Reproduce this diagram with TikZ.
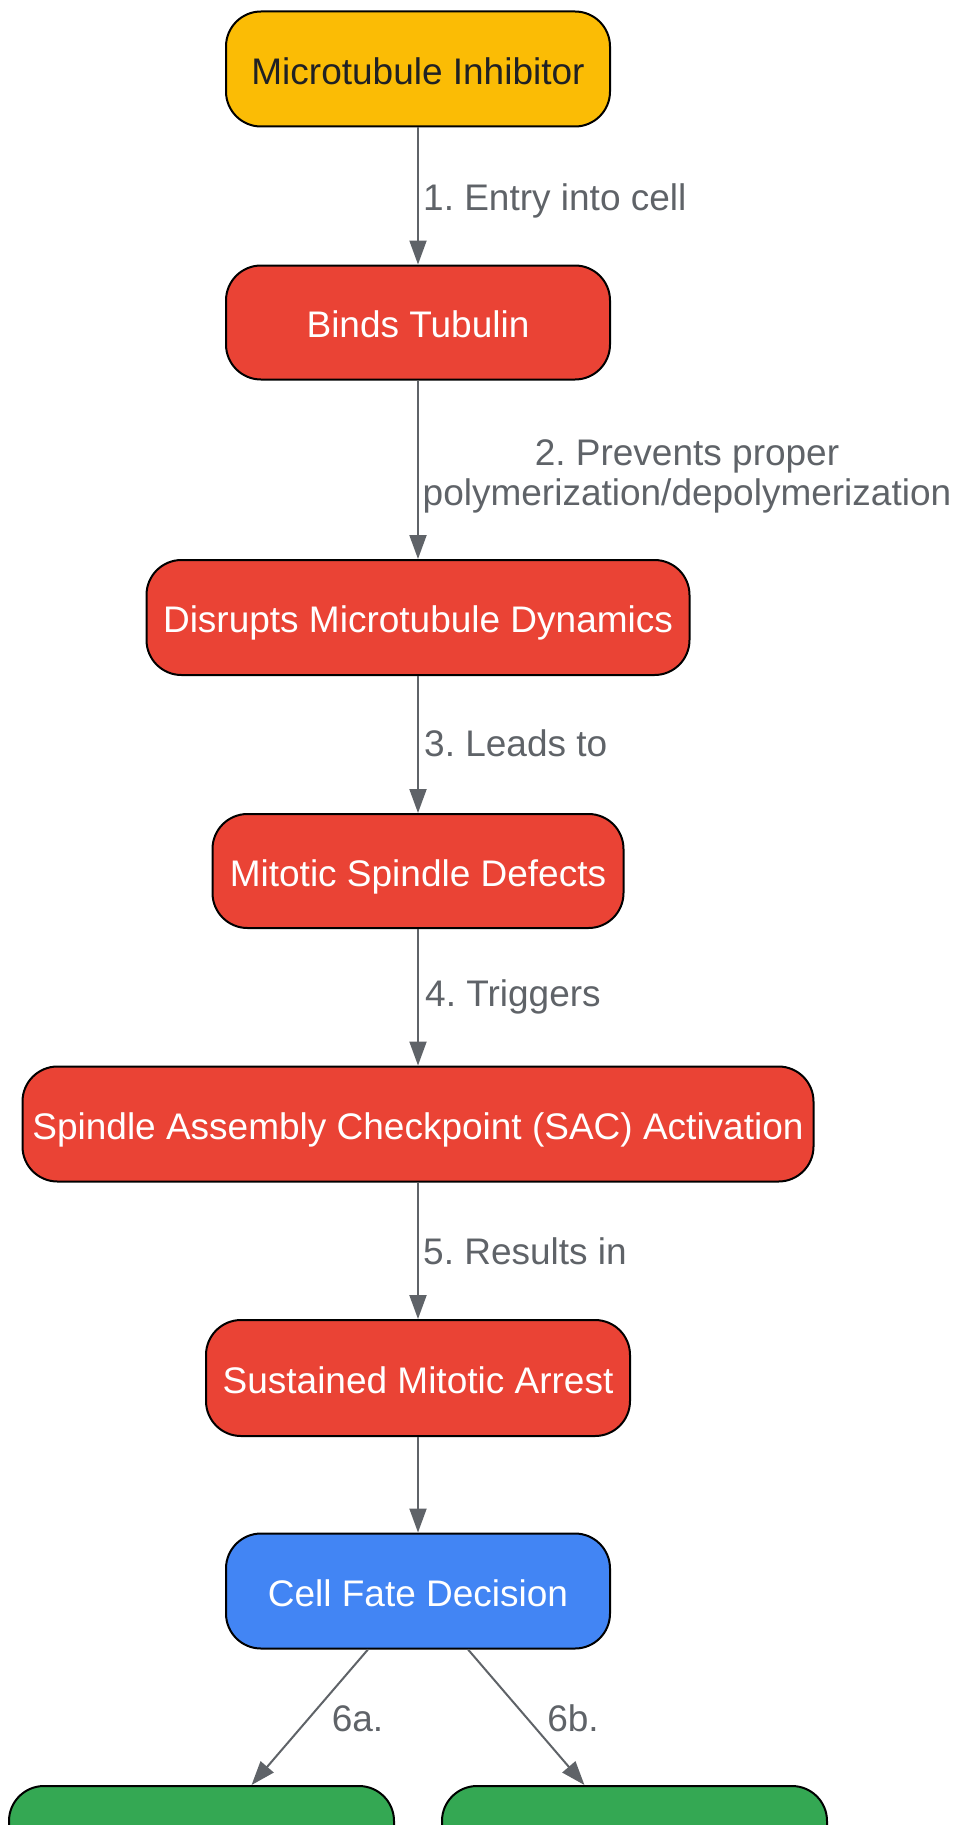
\documentclass[tikz,border=0pt]{standalone}
\usepackage{fontspec}
\setmainfont{Liberation Sans}
\usetikzlibrary{arrows.meta}
\frenchspacing
\definecolor{cyellow}{HTML}{FBBC05}
\definecolor{cred}{HTML}{EA4335}
\definecolor{cblue}{HTML}{4285F4}
\definecolor{cgreen}{HTML}{34A853}
\definecolor{cdark}{HTML}{202124}
\definecolor{cgrey}{HTML}{5F6368}
\tikzset{
  box/.style={draw=black, line width=2pt, rounded corners=35pt, inner sep=0pt,
    font=\fontsize{37}{44}\selectfont, text=white, text height=30.5pt, text depth=0pt},
  conn/.style={draw=cgrey, line width=2pt, -{Triangle[length=24pt,width=17pt]}},
  lbl/.style={text=cgrey, font=\fontsize{37}{40}\selectfont, inner sep=0pt},
  lbls/.style={lbl, text height=26.5pt, text depth=0pt},
}
\begin{document}
\begin{tikzpicture}[x=1pt,y=-1pt]
\clip (0,0) rectangle (956,1825);
\node[box, fill=cyellow, text=cdark, minimum width=384pt, minimum height=115pt] (mi) at (418,69) {Microtubule Inhibitor};
\node[box, fill=cred, minimum width=384pt, minimum height=114pt] (bt) at (418,322.5) {Binds Tubulin};
\node[box, fill=cred, minimum width=543pt, minimum height=115pt] (dm) at (418,617.5) {Disrupts Microtubule Dynamics};
\node[box, fill=cred, minimum width=411pt, minimum height=114pt] (ms) at (418,871) {Mitotic Spindle Defects};
\node[box, fill=cred, minimum width=791pt, minimum height=115pt] (sac) at (418,1124) {Spindle Assembly Checkpoint (SAC) Activation};
\node[box, fill=cred, minimum width=424pt, minimum height=116pt] (sm) at (418,1378) {Sustained Mitotic Arrest};
\node[box, fill=cblue, minimum width=384pt, minimum height=115pt] (cf) at (418,1591) {Cell Fate Decision};
\node[box, fill=cgreen, minimum width=385pt, minimum height=115pt] (ga) at (201.5,1843.5) {};
\node[box, fill=cgreen, minimum width=385pt, minimum height=115pt] (gb) at (634.5,1843.5) {};

\draw[conn] (mi) -- (bt);
\draw[conn] (bt) -- (dm);
\draw[conn] (dm) -- (ms);
\draw[conn] (ms) -- (sac);
\draw[conn] (sac) -- (sm);
\draw[conn] (sm) -- (cf);
\draw[conn] (cf) -- (ga);
\draw[conn] (cf) -- (gb);

\node[lbls, anchor=west] (l1) at (423,197) {1. Entry into cell};
\node[lbl, align=center] (l2) at (687,476.6) {2. Prevents proper\\polymerization/depolymerization};
\node[lbls, anchor=west] (l3) at (424,743.5) {3. Leads to};
\node[lbls, anchor=west] (l4) at (425,993.5) {4. Triggers};
\node[lbls, anchor=west] (l5) at (423,1251) {5. Results in};
\node[lbls] (l6a) at (357.5,1718) {6a.};
\node[lbls] (l6b) at (573,1718) {6b.};
\end{tikzpicture}
\end{document}
